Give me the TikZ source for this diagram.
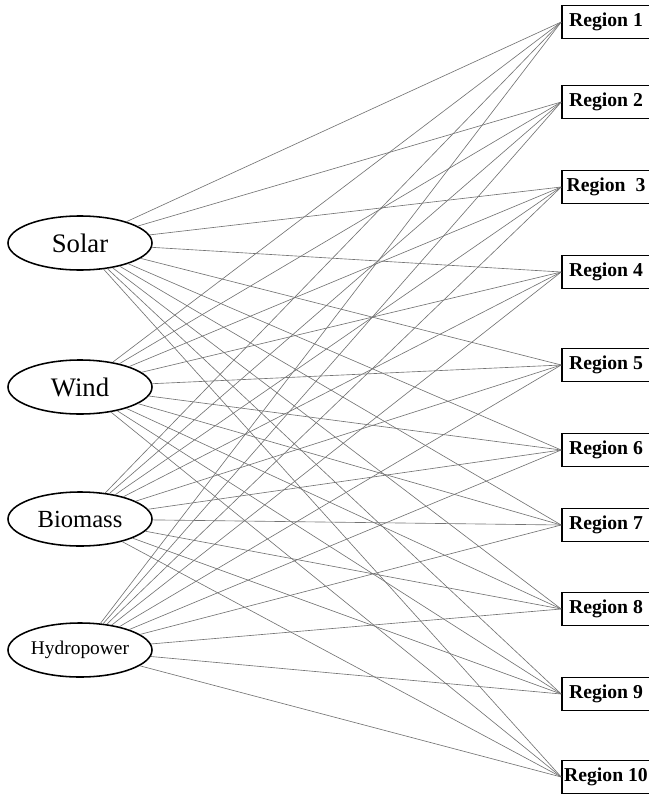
\documentclass[tikz,border=0pt]{standalone}
\usepackage{fontspec}
\setmainfont{Liberation Serif}
\usepackage{tikz}
\usetikzlibrary{shapes.geometric, positioning}

\begin{document}
\begin{tikzpicture}[x=0.025cm, y=-0.025cm,
    source/.style={ellipse, minimum width=3.6cm, minimum height=1.35cm,
                   inner sep=0pt, text centered, draw=black, line width=1.1pt},
    region/.style={rectangle, minimum width=2.2cm, minimum height=0.82cm,
                   inner xsep=1pt, text centered, draw=black, line width=1.1pt,
                   font=\fontsize{14}{16}\selectfont\bfseries},
    link/.style={draw=black!55, line width=0.45pt}]

    \useasboundingbox (0,0) rectangle (649,795);

    % Energy sources (left)
    \node[source, font=\fontsize{19}{21}\selectfont] (solar) at (80,243) {Solar};
    \node[source, font=\fontsize{19}{21}\selectfont] (wind) at (80,387) {Wind};
    \node[source, font=\fontsize{17.5}{20}\selectfont] (biomass) at (80,519) {Biomass};
    \node[source, font=\fontsize{13.8}{16}\selectfont] (hydro) at (80,650) {Hydropower};

    % Regions (right)
    \node[region] (r1) at (606,22) {Region 1};
    \node[region] (r2) at (606,102) {Region 2};
    \node[region] (r3) at (606,187) {Region\ \ 3};
    \node[region] (r4) at (606,272) {Region 4};
    \node[region] (r5) at (606,365) {Region 5};
    \node[region] (r6) at (606,450) {Region 6};
    \node[region] (r7) at (606,525) {Region 7};
    \node[region] (r8) at (606,609) {Region 8};
    \node[region] (r9) at (606,694) {Region 9};
    \node[region] (r10) at (606,777) {Region 10};

    % Connections
    \foreach \s in {solar, wind, biomass, hydro}
      \foreach \r in {1,...,10}
        \draw[link] (\s) -- (r\r.west);

\end{tikzpicture}
\end{document}
